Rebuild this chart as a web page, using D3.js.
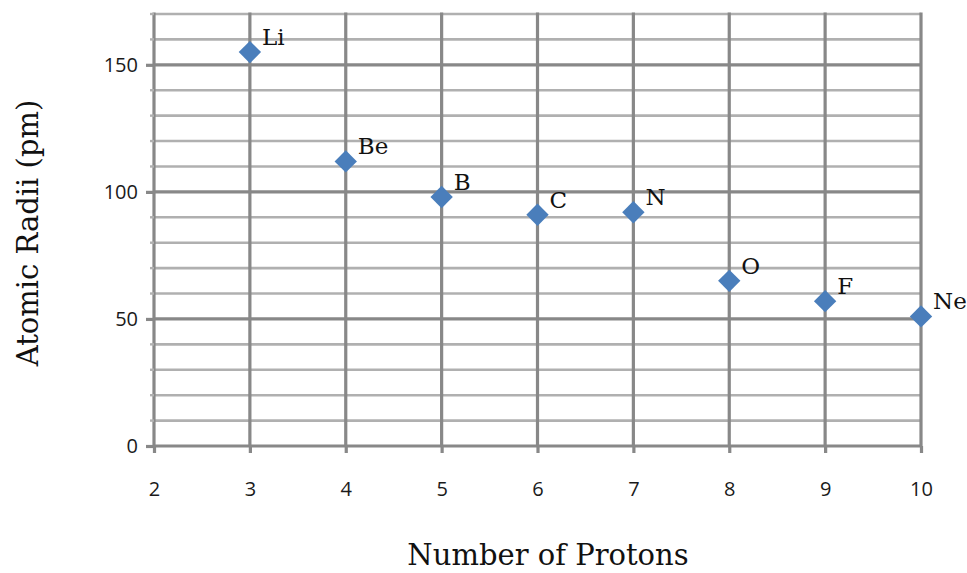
<!DOCTYPE html>
<html><head><meta charset="utf-8">
<script src="https://cdn.jsdelivr.net/npm/d3@7/dist/d3.min.js"></script>
<style>body{margin:0;background:#fff}svg{display:block}</style>
</head><body>
<svg id="c" width="967" height="573"></svg>
<script>
const elements = ["Li","Be","B","C","N","O","F","Ne"];
const protons = [3,4,5,6,7,8,9,10];
const radii = [155,112,98,91,92,65,57,51];
const xTicks = [2,3,4,5,6,7,8,9,10];
const yTicks = [0,50,100,150];
const yMinor = d3.range(0,171,10);

const svg = d3.select("#c");
const L=154, R=921, T=14, B=446;
const x = d3.scaleLinear().domain([2,10]).range([L,R]);
const y = d3.scaleLinear().domain([0,170]).range([B,T]);
const grid = "#888888";

// minor horizontal gridlines
svg.append("g").selectAll("line").data(yMinor.filter(v=>v%50!==0)).join("line")
  .attr("x1",L).attr("x2",R).attr("y1",d=>y(d)).attr("y2",d=>y(d))
  .attr("stroke","#b0b0b0").attr("stroke-width",2.6);
// major horizontal
svg.append("g").selectAll("line").data(yTicks).join("line")
  .attr("x1",L).attr("x2",R).attr("y1",d=>y(d)).attr("y2",d=>y(d))
  .attr("stroke",grid).attr("stroke-width",3.2);
// vertical gridlines
svg.append("g").selectAll("line").data(xTicks).join("line")
  .attr("x1",d=>x(d)).attr("x2",d=>x(d)).attr("y1",T-1.5).attr("y2",B)
  .attr("stroke",grid).attr("stroke-width",3.2);

// y axis
const ya = svg.append("g").attr("transform",`translate(${L},0)`)
  .call(d3.axisLeft(y).tickValues(yTicks).tickSize(8).tickPadding(8));
ya.select(".domain").remove();
ya.selectAll(".tick line").attr("stroke",grid).attr("stroke-width",3.2);
ya.selectAll("text").attr("font-family","Open Sans, Lato, sans-serif").attr("font-size",20).attr("fill","#1a1a1a");
// minor y ticks
svg.append("g").selectAll("line").data(yMinor.filter(v=>v%50!==0)).join("line")
  .attr("x1",L-4).attr("x2",L).attr("y1",d=>y(d)).attr("y2",d=>y(d))
  .attr("stroke","#b0b0b0").attr("stroke-width",2.4);

// x axis
const xa = svg.append("g").attr("transform",`translate(0,${B})`)
  .call(d3.axisBottom(x).tickValues(xTicks).tickSize(7).tickPadding(29).tickFormat(d3.format("d")));
xa.select(".domain").remove();
xa.selectAll(".tick line").attr("stroke",grid).attr("stroke-width",3.2);
xa.selectAll("text").attr("font-family","Open Sans, Lato, sans-serif").attr("font-size",20).attr("fill","#1a1a1a");

// points
const sym = d3.symbol().type(d3.symbolSquare).size(250);
svg.append("g").selectAll("path").data(protons).join("path")
  .attr("d",sym)
  .attr("transform",(d,i)=>`translate(${x(d)},${y(radii[i])}) rotate(45)`)
  .attr("fill","#4a7ebb");

// labels
svg.append("g").selectAll("text").data(elements).join("text")
  .attr("x",(d,i)=>x(protons[i])+12)
  .attr("y",(d,i)=>y(radii[i])-7)
  .attr("font-family","DejaVu Serif, serif").attr("font-size",23).attr("fill","#111")
  .text(d=>d);

// axis titles
svg.append("text").attr("x",548).attr("y",565).attr("text-anchor","middle")
  .attr("font-family","DejaVu Serif, serif").attr("font-size",29).attr("fill","#111")
  .text("Number of Protons");
svg.append("text").attr("transform","translate(38,233) rotate(-90)").attr("text-anchor","middle")
  .attr("font-family","DejaVu Serif, serif").attr("font-size",29).attr("fill","#111")
  .text("Atomic Radii (pm)");
</script>
</body></html>
